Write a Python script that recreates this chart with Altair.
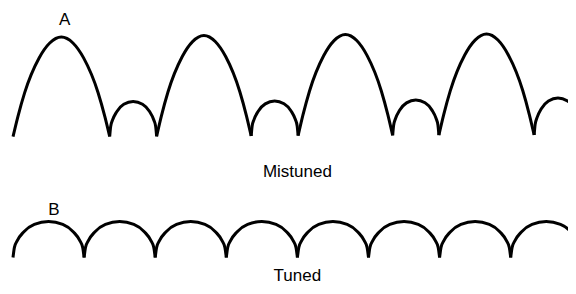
import altair as alt
import pandas as pd

# Horizontal unit: one cycle of the tuned waveform. Vertical unit: signal level.
# Mistuned waveform (A): alternating big and small lobes
top_valley_x = [0.0, 1.36, 2.02, 3.35, 4.01, 5.34, 5.99, 7.33, 8.0]
top_valley_y = [157.3, 157.5, 157.7, 158.0, 158.3, 158.6, 158.9, 159.0, 159.2]
top_peak_y = [257.0, 192.5, 258.5, 193.0, 259.5, 194.0, 260.0, 196.0]
top_kind = ["big", "small", "big", "small", "big", "small", "big", "small"]

# Tuned waveform (B): equal lobes
bot_valley_x = [0, 1, 2, 3, 4, 5, 6, 7, 8]
bot_valley_y = [36.5] * 9
bot_peak_y = [72.5] * 8
bot_kind = ["round"] * 8

# Lobe shapes (fraction of width -> fraction of height)
big_t = [0, 0.05, 0.12, 0.27, 0.38, 0.5, 0.62, 0.73, 0.88, 0.95, 1]
big_h = [0, 0.20, 0.44, 0.79, 0.94, 1, 0.94, 0.79, 0.44, 0.20, 0]
round_t = [0, 0.02, 0.06, 0.15, 0.30, 0.5, 0.70, 0.85, 0.94, 0.98, 1]
round_h = [0, 0.28, 0.47, 0.71, 0.92, 1, 0.92, 0.71, 0.47, 0.28, 0]

# Labels
label_text = ["A", "B", "Mistuned", "Tuned"]
label_x = [0.725, 0.577, 4.0, 4.0]
label_y = [269, 79, 117.5, 13.0]

profiles = {"big": (big_t, big_h), "small": (round_t, round_h), "round": (round_t, round_h)}

rows = []
seg = 0
for name, vx, vy, py, kinds in [
    ("A", top_valley_x, top_valley_y, top_peak_y, top_kind),
    ("B", bot_valley_x, bot_valley_y, bot_peak_y, bot_kind),
]:
    for i, kind in enumerate(kinds):
        ts, hs = profiles[kind]
        x0, x1 = vx[i], vx[i + 1]
        b0, b1 = vy[i], vy[i + 1]
        peak = py[i]
        base_mid = (b0 + b1) / 2
        for k, (t, h) in enumerate(zip(ts, hs)):
            base = b0 + (b1 - b0) * t
            rows.append({"seg": seg, "order": k,
                         "x": x0 + (x1 - x0) * t,
                         "y": base + (peak - base_mid) * h})
        seg += 1

wave = pd.DataFrame(rows)
labels = pd.DataFrame({"text": label_text, "x": label_x, "y": label_y})

xs = alt.Scale(domain=[-5 / 71.1, 555 / 71.1], nice=False, zero=False)
ys = alt.Scale(domain=[8, 286], nice=False, zero=False)

lines = alt.Chart(wave).mark_line(
    color="black", strokeWidth=3, interpolate="monotone", clip=True
).encode(
    x=alt.X("x:Q", scale=xs, axis=None),
    y=alt.Y("y:Q", scale=ys, axis=None),
    detail="seg:N",
    order="order:Q",
)

text = alt.Chart(labels).mark_text(
    font="Liberation Sans", fontSize=17, color="black",
    align="center", baseline="alphabetic"
).encode(
    x=alt.X("x:Q", scale=xs, axis=None),
    y=alt.Y("y:Q", scale=ys, axis=None),
    text="text:N",
)

chart = alt.layer(lines, text).properties(
    width=560, height=278, padding=0,
    autosize=alt.AutoSizeParams(type="none"),
).configure_view(stroke=None)

chart.save("out.html", embed_options={"renderer": "svg", "actions": False})
